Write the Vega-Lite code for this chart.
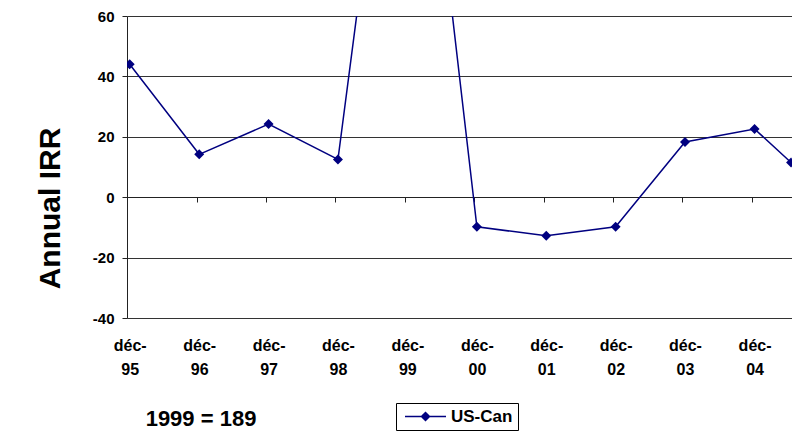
{
  "$schema": "https://vega.github.io/schema/vega-lite/v6.json",
  "width": 665,
  "height": 302,
  "autosize": "none",
  "padding": {"left": 127, "top": 16, "right": 0, "bottom": 113},
  "background": "white",
  "config": {
    "font": "Liberation Sans",
    "view": {"stroke": null}
  },
  "data": {
    "values": [
      {"date": "1995-12-15", "irr": 44.0, "series": "US-Can"},
      {"date": "1996-12-15", "irr": 14.2, "series": "US-Can"},
      {"date": "1997-12-15", "irr": 24.2, "series": "US-Can"},
      {"date": "1998-12-15", "irr": 12.5, "series": "US-Can"},
      {"date": "1999-12-15", "irr": 189, "series": "US-Can"},
      {"date": "2000-12-15", "irr": -9.8, "series": "US-Can"},
      {"date": "2001-12-15", "irr": -12.8, "series": "US-Can"},
      {"date": "2002-12-15", "irr": -9.8, "series": "US-Can"},
      {"date": "2003-12-15", "irr": 18.3, "series": "US-Can"},
      {"date": "2004-12-15", "irr": 22.6, "series": "US-Can"},
      {"date": "2005-06-25", "irr": 11.5, "series": "US-Can"}
    ]
  },
  "layer": [
    {
      "mark": {"type": "line", "clip": true, "strokeWidth": 1.5},
      "encoding": {
        "x": {
          "field": "date",
          "type": "temporal",
          "scale": {
            "type": "utc",
            "domain": [
              {"year": 1995, "month": 12, "date": 1, "utc": true},
              {"year": 2005, "month": 6, "date": 30, "utc": true}
            ]
          },
          "axis": {
            "orient": "bottom",
            "values": [
              {"year": 1995, "month": 12, "date": 15, "utc": true},
              {"year": 1996, "month": 12, "date": 15, "utc": true},
              {"year": 1997, "month": 12, "date": 15, "utc": true},
              {"year": 1998, "month": 12, "date": 15, "utc": true},
              {"year": 1999, "month": 12, "date": 15, "utc": true},
              {"year": 2000, "month": 12, "date": 15, "utc": true},
              {"year": 2001, "month": 12, "date": 15, "utc": true},
              {"year": 2002, "month": 12, "date": 15, "utc": true},
              {"year": 2003, "month": 12, "date": 15, "utc": true},
              {"year": 2004, "month": 12, "date": 15, "utc": true}
            ],
            "labelExpr": "['déc-', utcFormat(datum.value, '%y')]",
            "labelFont": "Liberation Sans",
            "labelFontSize": 16,
            "labelFontWeight": "bold",
            "labelColor": "#000",
            "labelAlign": "center",
            "labelBaseline": "alphabetic",
            "labelLineHeight": 24,
            "labelPadding": 32,
            "labelOverlap": false,
            "labelFlush": false,
            "labelBound": false,
            "domain": false,
            "ticks": false,
            "tickSize": 0,
            "grid": false,
            "title": "1999 = 189",
            "titleFont": "Liberation Sans",
            "titleFontSize": 22,
            "titleFontWeight": "bold",
            "titleColor": "#000",
            "titleAlign": "center",
            "titleBaseline": "alphabetic",
            "titleX": 73.5,
            "titleY": 107
          }
        },
        "y": {
          "field": "irr",
          "type": "quantitative",
          "scale": {"domain": [-40, 60], "nice": false, "zero": false},
          "axis": {
            "values": [-40, -20, 0, 20, 40, 60],
            "labelExpr": "'' + datum.value",
            "labelFont": "Liberation Sans",
            "labelFontSize": 15,
            "labelFontWeight": "bold",
            "labelColor": "#000",
            "labelPadding": 8,
            "tickSize": 5,
            "tickColor": "#222",
            "domainColor": "#222",
            "grid": true,
            "gridColor": "#333",
            "gridWidth": 1,
            "title": "Annual IRR",
            "titleFont": "Liberation Sans",
            "titleFontSize": 30,
            "titleFontWeight": "bold",
            "titleColor": "#000",
            "titleAngle": 270,
            "titleAlign": "center",
            "titleBaseline": "alphabetic",
            "titleX": -68,
            "titleY": 192
          }
        },
        "color": {
          "field": "series",
          "type": "nominal",
          "scale": {"range": ["#000080"]},
          "legend": {
            "orient": "none",
            "legendX": 269,
            "legendY": 387,
            "title": null,
            "padding": 5,
            "strokeColor": "#000",
            "fillColor": "#fff",
            "labelFont": "Liberation Sans",
            "labelFontSize": 17,
            "labelFontWeight": "bold",
            "labelColor": "#000",
            "symbolType": "M-4.1,0H4.1M0,-0.8L0.8,0L0,0.8L-0.8,0Z",
            "symbolSize": 100,
            "symbolOffset": 16,
            "labelOffset": 17,
            "symbolStrokeWidth": 1.5,
            "symbolStrokeColor": "#000080",
            "symbolFillColor": "#000080",
            "encode": {
              "symbols": {
                "update": {
                  "fill": {"value": "#000080"},
                  "stroke": {"value": "#000080"},
                  "opacity": {"value": 1}
                }
              }
            }
          }
        }
      }
    },
    {
      "mark": {
        "type": "point",
        "shape": "diamond",
        "filled": true,
        "size": 100,
        "clip": true,
        "color": "#000080",
        "opacity": 1
      },
      "encoding": {
        "x": {
          "field": "date",
          "type": "temporal",
          "axis": {
            "orient": "bottom",
            "offset": -121,
            "values": [
              {"year": 1995, "month": 12, "date": 1, "utc": true},
              {"year": 1996, "month": 12, "date": 1, "utc": true},
              {"year": 1997, "month": 12, "date": 1, "utc": true},
              {"year": 1998, "month": 12, "date": 1, "utc": true},
              {"year": 1999, "month": 12, "date": 1, "utc": true},
              {"year": 2000, "month": 12, "date": 1, "utc": true},
              {"year": 2001, "month": 12, "date": 1, "utc": true},
              {"year": 2002, "month": 12, "date": 1, "utc": true},
              {"year": 2003, "month": 12, "date": 1, "utc": true},
              {"year": 2004, "month": 12, "date": 1, "utc": true}
            ],
            "labels": false,
            "domain": true,
            "domainColor": "#222",
            "ticks": true,
            "tickSize": 5,
            "tickColor": "#222",
            "grid": false,
            "title": null
          }
        },
        "y": {"field": "irr", "type": "quantitative"}
      }
    }
  ],
  "resolve": {"axis": {"x": "independent"}}
}
